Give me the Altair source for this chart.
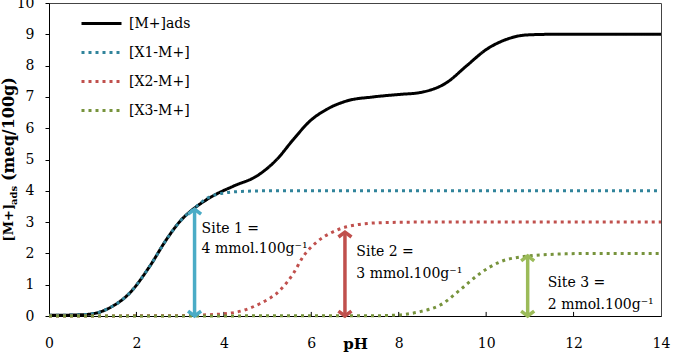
import altair as alt
import pandas as pd

# ---------------- data ----------------
series_names = ["[M+]ads", "[X1-M+]", "[X2-M+]", "[X3-M+]"]
series_colors = ["#000000", "#31849B", "#C0504D", "#77933C"]

ph_total = [0, 0.5, 0.94, 1.4, 1.85, 2.31, 2.69, 3.0, 3.34, 3.68, 4.22, 4.75, 5.21,
            5.59, 5.97, 6.35, 6.81, 7.42, 8.03, 8.49, 9.1, 9.55, 10.01, 10.47, 10.93,
            11.53, 12.5, 14]
m_total = [0.02, 0.03, 0.06, 0.27, 0.74, 1.6, 2.45, 3.03, 3.46, 3.78, 4.15, 4.47, 5.0,
           5.64, 6.23, 6.6, 6.87, 7.0, 7.08, 7.14, 7.46, 7.99, 8.52, 8.84, 8.98,
           9.0, 9.0, 9.0]

ph_x1 = [0, 0.5, 0.94, 1.4, 1.85, 2.31, 2.69, 3.0, 3.34, 3.6, 3.8, 4.0, 4.4, 5.0, 6.0, 14]
x1 = [0.02, 0.03, 0.06, 0.27, 0.74, 1.6, 2.45, 3.03, 3.46, 3.75, 3.87, 3.93, 3.98, 4.0, 4.0, 4.0]

ph_x2 = [0, 3.0, 3.45, 4.14, 4.83, 5.29, 5.59, 5.81, 6.13, 6.5, 6.81, 7.57, 8.5, 14]
x2 = [0.0, 0.01, 0.03, 0.09, 0.40, 0.83, 1.36, 1.89, 2.37, 2.69, 2.85, 2.98, 3.0, 3.0]

ph_x3 = [0, 7.5, 7.96, 8.49, 8.95, 9.4, 9.86, 10.32, 10.93, 11.7, 12.5, 14]
x3 = [0.0, 0.01, 0.03, 0.14, 0.35, 0.83, 1.36, 1.73, 1.91, 1.98, 2.0, 2.0]

# arrows marking each site
arrow_ph = [3.33, 6.77, 10.95]
arrow_top = [3.41, 2.68, 1.92]
arrow_colors = ["#4BACC6", "#C0504D", "#9BBB59"]

# annotations
ann_ph = [3.49, 3.49, 7.03, 7.03, 11.41, 11.41]
ann_val = [2.77, 2.13, 2.03, 1.33, 1.04, 0.34]
ann_text = ["Site 1 =", "4 mmol.100g⁻¹", "Site 2 =", "3 mmol.100g⁻¹",
            "Site 3 =", "2 mmol.100g⁻¹"]

x_ticks = [0, 2, 4, 6, 8, 10, 12, 14]
inner_ticks = [2, 4, 6, 8, 10, 12]
y_ticks = list(range(0, 11))

SERIF = "DejaVu Serif"

# ---------------- tables ----------------
rows = []
for name, phs, vals in [(series_names[0], ph_total, m_total),
                        (series_names[1], ph_x1, x1),
                        (series_names[2], ph_x2, x2),
                        (series_names[3], ph_x3, x3)]:
    for i, (p, v) in enumerate(zip(phs, vals)):
        rows.append({"series": name, "pH": p, "value": v, "i": i})
df = pd.DataFrame(rows)
df_total = df[df.series == series_names[0]]
df_dot = df[df.series != series_names[0]]

xscale = alt.Scale(domain=[0, 14], nice=False)
yscale = alt.Scale(domain=[0, 10], nice=False)
xaxis = alt.Axis(values=x_ticks, title="pH", ticks=False, labelPadding=20,
                 labelFlush=False, labelOverlap=False,
                 titleY=32, titleBaseline="alphabetic", grid=False)
yaxis = alt.Axis(values=y_ticks, title=None, tickSize=4, labelPadding=11,
                 labelFlush=False, labelOverlap=False, grid=False, format="d")


def X(field):
    return alt.X(field, scale=xscale, axis=xaxis)


def Y(field):
    return alt.Y(field, scale=yscale, axis=yaxis)


color = alt.Color("series:N", scale=alt.Scale(domain=series_names, range=series_colors),
                  title=None, sort=series_names)
dash = alt.StrokeDash("series:N",
                      scale=alt.Scale(domain=series_names,
                                      range=[[1, 0], [3, 4], [3, 4], [3, 4]]),
                      title=None, sort=series_names)

line_total = alt.Chart(df_total).mark_line(strokeWidth=3, interpolate="monotone").encode(
    x=X("pH:Q"), y=Y("value:Q"), color=color, strokeDash=dash, order="i:Q")
line_dot = alt.Chart(df_dot).mark_line(strokeWidth=3, interpolate="monotone").encode(
    x=X("pH:Q"), y=Y("value:Q"), color=color, strokeDash=dash, order="i:Q")

# inner x ticks
tick_df = pd.DataFrame({"pH": inner_ticks, "value": [0] * len(inner_ticks),
                        "v2": [0.13] * len(inner_ticks)})
ticks = alt.Chart(tick_df).mark_rule(color="#000", strokeWidth=1).encode(
    x=X("pH:Q"), y=Y("value:Q"), y2="v2:Q")

layers = [line_total, ticks, line_dot]

down_head = "M -1 -0.75 L 0 0 L 1 -0.75"
up_head = "M -1 0.75 L 0 0 L 1 0.75"
for p, top, c in zip(arrow_ph, arrow_top, arrow_colors):
    adf = pd.DataFrame({"pH": [p], "value": [0.0], "top": [top]})
    layers.append(alt.Chart(adf).mark_rule(color=c, strokeWidth=3.5).encode(
        x=X("pH:Q"), y=Y("value:Q"), y2="top:Q"))
    layers.append(alt.Chart(adf).mark_point(shape=down_head, filled=False, color=c,
                                            strokeWidth=3.5, size=170, opacity=1).encode(
        x=X("pH:Q"), y=Y("value:Q")))
    layers.append(alt.Chart(adf).mark_point(shape=up_head, filled=False, color=c,
                                            strokeWidth=3.5, size=170, opacity=1).encode(
        x=X("pH:Q"), y=Y("top:Q")))

ann_df = pd.DataFrame({"pH": ann_ph, "value": ann_val, "text": ann_text})
layers.append(alt.Chart(ann_df).mark_text(align="left", baseline="middle", font=SERIF,
                                          fontSize=14, color="#000").encode(
    x=X("pH:Q"), y=Y("value:Q"), text="text:N"))

# y axis title built from pieces (subscript "ads")
yt = [("[M+]", 238.5, -40, 13), ("ads", 202.0, -35, 10), ("(meq/100g)", 178.0, -40, 16)]
for txt, ypix, xpix, fs in yt:
    tdf = pd.DataFrame({"t": [txt]})
    layers.append(alt.Chart(tdf).mark_text(angle=270, align="left", baseline="middle",
                                           font=SERIF, fontWeight="bold", fontSize=fs,
                                           color="#000").encode(
        x=alt.value(xpix), y=alt.value(ypix), text="t:N"))

chart = alt.layer(*layers).properties(
    width=612, height=313,
    padding={"left": 49, "top": 3, "right": 11, "bottom": 38},
    autosize=alt.AutoSizeParams(type="none"),
    background="white",
).configure_view(
    stroke="#444", strokeWidth=1
).configure_axis(
    labelFont=SERIF, labelFontSize=14, labelColor="#000",
    titleFont=SERIF, titleFontSize=15, titleFontWeight="bold", titleColor="#000",
    domainColor="#000", domainWidth=1, tickColor="#000",
).configure_legend(
    orient="none", legendX=31, legendY=-1, labelFont=SERIF, labelFontSize=14,
    labelColor="#000", symbolType="stroke", symbolSize=1600, symbolStrokeWidth=3,
    rowPadding=-13, labelOffset=6, padding=0,
)

chart.save("out.html", embed_options={"renderer": "svg", "actions": False})
